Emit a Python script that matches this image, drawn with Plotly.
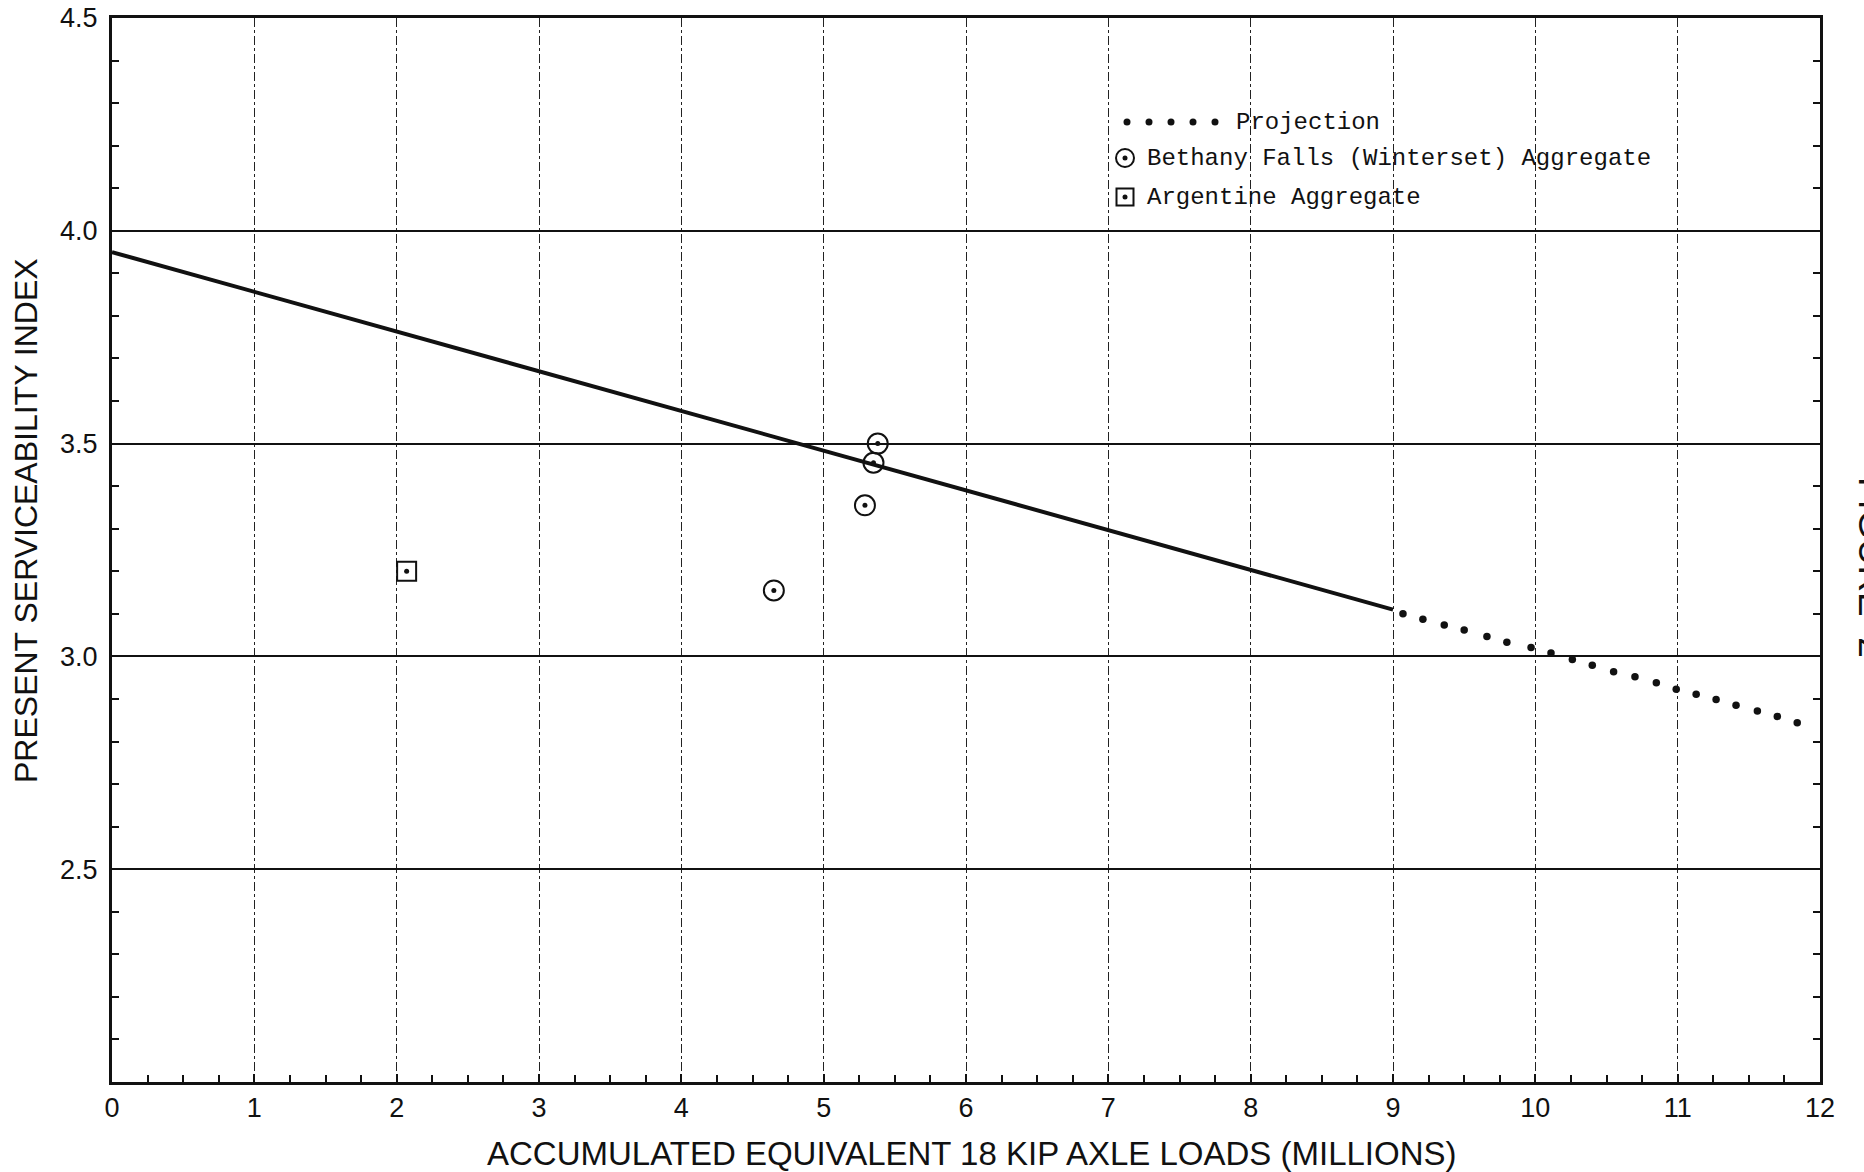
import plotly.graph_objects as go

# Fitted serviceability trend (solid) over measured traffic
trend_x = [0.0, 9.0]
trend_psi = [3.95, 3.11]

# Projected serviceability beyond 9 million loads (dotted)
proj_x = [9.07, 9.21, 9.36, 9.50, 9.66, 9.80, 9.97, 10.11, 10.26, 10.40,
          10.55, 10.70, 10.85, 10.99, 11.13, 11.27, 11.41, 11.56, 11.70, 11.84]
proj_psi = [3.100, 3.087, 3.074, 3.062, 3.047, 3.033, 3.021, 3.008, 2.993, 2.979,
            2.964, 2.952, 2.938, 2.923, 2.911, 2.899, 2.885, 2.872, 2.859, 2.844]

# Bethany Falls (Winterset) aggregate sections
bethany_x = [5.38, 5.35, 5.29, 4.65]
bethany_psi = [3.50, 3.455, 3.355, 3.155]

# Argentine aggregate section
argentine_x = [2.07]
argentine_psi = [3.20]

x_ticks = list(range(0, 13))
y_ticks = [2.0, 2.5, 3.0, 3.5, 4.0, 4.5]
y_ticktext = ["", "2.5", "3.0", "3.5", "4.0", "4.5"]

legend_labels = ["Projection", "Bethany Falls (Winterset) Aggregate", "Argentine Aggregate"]

INK = "#111111"
SANS = "Liberation Sans, Arial, sans-serif"
MONO = "Liberation Mono, Courier New, monospace"

PLOT_L, PLOT_R, PLOT_T, PLOT_B = 112, 1820, 18, 1082
W, H = 1864, 1172


def open_marker(symbol, size):
    return dict(symbol=symbol, size=size, color=INK, line=dict(width=2, color=INK))


fig = go.Figure()

fig.add_trace(go.Scatter(x=trend_x, y=trend_psi, mode="lines",
                         line=dict(color=INK, width=4), showlegend=False))
fig.add_trace(go.Scatter(x=proj_x, y=proj_psi, mode="markers",
                         marker=dict(color=INK, size=7.5), showlegend=False))
fig.add_trace(go.Scatter(x=bethany_x, y=bethany_psi, mode="markers",
                         marker=open_marker("circle-open", 20), showlegend=False))
fig.add_trace(go.Scatter(x=bethany_x, y=bethany_psi, mode="markers",
                         marker=dict(color=INK, size=5), showlegend=False,
                         hoverinfo="skip"))
fig.add_trace(go.Scatter(x=argentine_x, y=argentine_psi, mode="markers",
                         marker=open_marker("square-open", 19), showlegend=False))
fig.add_trace(go.Scatter(x=argentine_x, y=argentine_psi, mode="markers",
                         marker=dict(color=INK, size=5), showlegend=False,
                         hoverinfo="skip"))

# Hand-drawn key, placed on a hidden overlay axis measured in page pixels
key_rows = [122, 158, 197]
key_sym_x = 1125
fig.add_trace(go.Scatter(x=[1127, 1149, 1171, 1193, 1215], y=[key_rows[0]] * 5,
                         mode="markers", marker=dict(color=INK, size=7),
                         xaxis="x2", yaxis="y2", showlegend=False, hoverinfo="skip"))
fig.add_trace(go.Scatter(x=[key_sym_x], y=[key_rows[1]], mode="markers",
                         marker=open_marker("circle-open", 18),
                         xaxis="x2", yaxis="y2", showlegend=False, hoverinfo="skip"))
fig.add_trace(go.Scatter(x=[key_sym_x], y=[key_rows[2]], mode="markers",
                         marker=open_marker("square-open", 17),
                         xaxis="x2", yaxis="y2", showlegend=False, hoverinfo="skip"))
fig.add_trace(go.Scatter(x=[key_sym_x, key_sym_x], y=key_rows[1:], mode="markers",
                         marker=dict(color=INK, size=5),
                         xaxis="x2", yaxis="y2", showlegend=False, hoverinfo="skip"))

key_font = dict(family=MONO, size=24, color=INK)
annotations = [
    dict(text=legend_labels[0], x=1234, y=key_rows[0], xref="x2", yref="y2",
         xanchor="left", yanchor="middle", showarrow=False, font=key_font),
    dict(text=legend_labels[1], x=1145, y=key_rows[1], xref="x2", yref="y2",
         xanchor="left", yanchor="middle", showarrow=False, font=key_font),
    dict(text=legend_labels[2], x=1145, y=key_rows[2], xref="x2", yref="y2",
         xanchor="left", yanchor="middle", showarrow=False, font=key_font),
    # axis titles
    dict(text="PRESENT SERVICEABILITY INDEX", textangle=-90,
         x=(26 - PLOT_L) / (PLOT_R - PLOT_L), y=(PLOT_B - 521) / (PLOT_B - PLOT_T),
         xref="paper", yref="paper", xanchor="center", yanchor="middle",
         showarrow=False, font=dict(family=SANS, size=32, color=INK)),
    dict(text="ACCUMULATED EQUIVALENT 18 KIP AXLE LOADS (MILLIONS)",
         x=(972 - PLOT_L) / (PLOT_R - PLOT_L), y=(PLOT_B - 1153) / (PLOT_B - PLOT_T),
         xref="paper", yref="paper", xanchor="center", yanchor="middle",
         showarrow=False, font=dict(family=SANS, size=33, color=INK)),
    # figure number running down the right margin
    dict(text="FIGURE  2", textangle=90,
         x=(1872 - PLOT_L) / (PLOT_R - PLOT_L), y=(PLOT_B - 567) / (PLOT_B - PLOT_T),
         xref="paper", yref="paper", xanchor="center", yanchor="middle",
         showarrow=False, font=dict(family=SANS, size=37, color=INK)),
]

fig.update_layout(
    width=W, height=H,
    margin=dict(l=PLOT_L, r=W - PLOT_R, t=PLOT_T, b=H - PLOT_B),
    paper_bgcolor="white", plot_bgcolor="white",
    showlegend=False,
    annotations=annotations,
    xaxis=dict(range=[0, 12], tickvals=x_ticks, ticks="inside", ticklen=8,
               tickwidth=1.5, tickcolor=INK, automargin=False,
               showgrid=True, gridcolor="#222222", gridwidth=1.2, griddash="dashdot",
               showline=True, linecolor=INK, linewidth=3, mirror=True,
               zeroline=False, layer="above traces",
               tickfont=dict(family=SANS, size=27, color=INK),
               minor=dict(dtick=0.25, ticks="inside", ticklen=7, tickcolor=INK,
                          tickwidth=1.5, showgrid=False)),
    yaxis=dict(range=[2.0, 4.5], tickvals=y_ticks, ticktext=y_ticktext,
               ticks="inside", ticklen=8, tickwidth=1.5, tickcolor=INK,
               automargin=False,
               showgrid=True, gridcolor=INK, gridwidth=1.6,
               showline=True, linecolor=INK, linewidth=3, mirror="ticks",
               zeroline=False, layer="above traces", ticklabelstandoff=6,
               tickfont=dict(family=SANS, size=27, color=INK),
               minor=dict(dtick=0.1, ticks="inside", ticklen=7, tickcolor=INK,
                          tickwidth=1.5, showgrid=False)),
    xaxis2=dict(range=[PLOT_L, PLOT_R], overlaying="x", visible=False,
                automargin=False),
    yaxis2=dict(range=[PLOT_B, PLOT_T], overlaying="y", visible=False,
                automargin=False),
)

fig.write_html("out.html")
